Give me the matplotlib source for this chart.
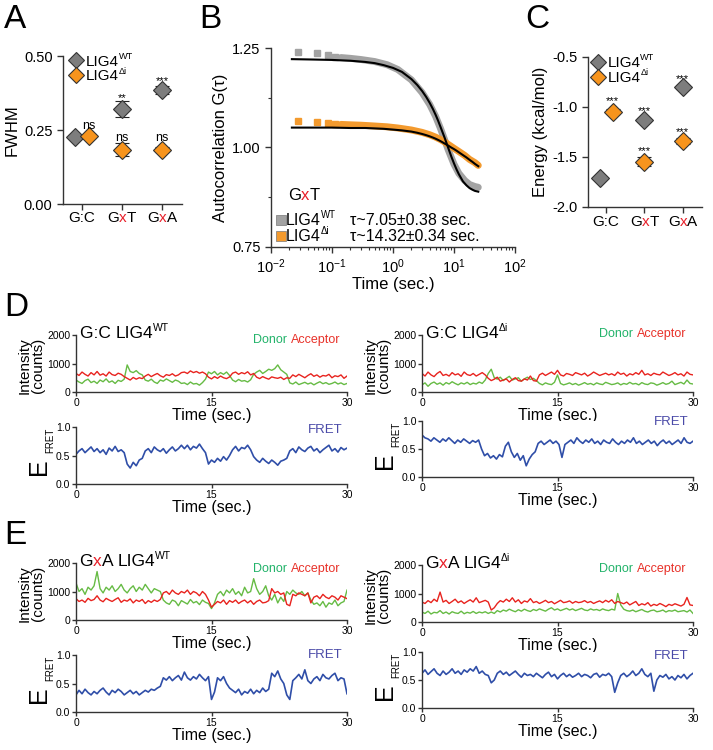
import numpy as np
import matplotlib
matplotlib.use("agg")
import matplotlib.pyplot as plt
import matplotlib.transforms as mtransforms
from matplotlib.ticker import LogLocator, NullFormatter, FixedLocator

plt.rcParams['font.family'] = ['Liberation Sans', 'DejaVu Sans']
plt.rcParams['mathtext.fontset'] = 'custom'
plt.rcParams['mathtext.rm'] = 'Liberation Sans'
plt.rcParams['mathtext.it'] = 'Liberation Sans:italic'
plt.rcParams['mathtext.default'] = 'regular'
plt.rcParams['axes.linewidth'] = 1.0
plt.rcParams['axes.edgecolor'] = '#333333'

# ---- data ----
categories = ['G:C', 'GxT', 'GxA']
cat_parts = [[('G:C', 'k')], [('G', 'k'), ('x', '#e8202a'), ('T', 'k')],
             [('G', 'k'), ('x', '#e8202a'), ('A', 'k')]]

fwhm_wt = [0.228, 0.322, 0.384]
fwhm_wt_err = [0.006, 0.027, 0.014]
fwhm_di = [0.230, 0.184, 0.184]
fwhm_di_err = [0.008, 0.023, 0.008]
fwhm_sig_wt = ['', '**', '***']
fwhm_sig_di = ['ns', 'ns', 'ns']

energy_wt = [-1.71, -1.13, -0.80]
energy_wt_err = [0.01, 0.02, 0.02]
energy_di = [-1.045, -1.545, -1.335]
energy_di_err = [0.02, 0.045, 0.03]
energy_sig_wt = ['', '***', '***']
energy_sig_di = ['***', '***', '***']

# panel B autocorrelation
wt_sq_t = [0.028, 0.056, 0.085, 0.113]
wt_sq_g = [1.240, 1.237, 1.232, 1.228]
di_sq_t = [0.028, 0.056, 0.085, 0.113]
di_sq_g = [1.066, 1.064, 1.062, 1.060]
band_t = [0.14, 0.2, 0.3, 0.5, 0.8, 1.2, 2, 3, 4, 5, 6, 7, 8, 10, 12, 15, 18, 22, 25]
wt_band_g = [1.226, 1.224, 1.221, 1.216, 1.208, 1.196, 1.170, 1.138, 1.108, 1.078, 1.048,
             1.020, 0.995, 0.958, 0.935, 0.917, 0.907, 0.902, 0.900]
di_band_g = [1.058, 1.057, 1.056, 1.054, 1.052, 1.049, 1.044, 1.038, 1.032, 1.026, 1.020,
             1.014, 1.008, 0.998, 0.990, 0.980, 0.970, 0.962, 0.955]
fit_t = [0.022, 0.05, 0.1, 0.2, 0.35, 0.5, 0.7, 1, 1.4, 2, 2.5, 3, 3.5, 4, 4.5, 5, 5.5, 6,
         6.5, 7, 8, 9, 10, 11, 12, 14, 16, 18, 20, 22, 25]
wt_fit_g = [1.222, 1.221, 1.220, 1.218, 1.215, 1.212, 1.207, 1.200, 1.190, 1.172, 1.157,
            1.142, 1.127, 1.112, 1.097, 1.082, 1.067, 1.052, 1.038, 1.025, 1.000, 0.978,
            0.960, 0.945, 0.933, 0.915, 0.905, 0.898, 0.894, 0.891, 0.889]
di_fit_g = [1.050, 1.050, 1.050, 1.049, 1.049, 1.048, 1.047, 1.045, 1.043, 1.040, 1.037,
            1.034, 1.031, 1.028, 1.025, 1.022, 1.019, 1.016, 1.013, 1.010, 1.005, 1.000,
            0.996, 0.992, 0.988, 0.981, 0.975, 0.969, 0.964, 0.959, 0.953]
tau_labels = ['\u03c4~7.05\u00b10.38 sec.', '\u03c4~14.32\u00b10.34 sec.']

# smFRET traces (0-30 s)
dl_acc = [650, 580, 700, 620, 560, 680, 600, 720, 590, 640, 560, 700, 610, 580, 660, 620, 540,
          480, 420, 510, 450, 500, 470,
          560, 620, 540, 600, 650, 570, 520, 610, 580, 640, 560, 600, 680,
          700, 650, 740, 680, 720, 660, 700, 640,
          520, 460, 540, 480, 560, 500, 470, 530,
          660, 700, 620, 680, 640, 710, 600, 650,
          520, 470, 540, 490, 450, 530, 500, 480, 520, 440, 500,
          480, 600, 540, 620, 560, 500, 580, 640, 550, 600, 520, 580, 560, 620, 500, 570, 540,
          600, 480, 560]
dl_don = [420, 350, 300, 400, 450, 330, 380, 300, 420, 360, 460, 340, 390, 300, 410, 370, 450,
          950, 720, 680, 750, 650, 600,
          420, 380, 450, 350, 300, 420, 380, 460, 400, 340, 420, 380, 300,
          320, 260, 350, 280, 300, 240, 330, 450,
          700, 640, 720, 600, 680, 620, 700, 580,
          420, 360, 440, 380, 400, 350, 430, 620,
          700, 760, 650, 720, 800, 760, 820, 950, 780, 700, 620,
          320, 280, 350, 260, 300, 340, 280, 320, 250, 310, 360, 290, 330, 270, 300, 350, 280,
          320, 260, 300]
dl_fret = [0.52, 0.58, 0.62, 0.55, 0.60, 0.65, 0.57, 0.62, 0.55, 0.60, 0.52, 0.63, 0.58, 0.66,
           0.57, 0.60, 0.55,
           0.35, 0.28, 0.38, 0.32, 0.42, 0.45,
           0.58, 0.62, 0.55, 0.65, 0.60, 0.57, 0.62, 0.54, 0.60, 0.65, 0.58, 0.62, 0.68,
           0.62, 0.68, 0.60, 0.66, 0.63, 0.70, 0.62, 0.55,
           0.35, 0.42, 0.38, 0.45, 0.40, 0.48, 0.42, 0.50,
           0.60, 0.66, 0.58, 0.64, 0.62, 0.68, 0.60, 0.48,
           0.42, 0.38, 0.45, 0.40, 0.36, 0.42, 0.38, 0.33, 0.40, 0.42, 0.45,
           0.58, 0.62, 0.55, 0.65, 0.60, 0.57, 0.63, 0.66, 0.58, 0.62, 0.55, 0.60, 0.64, 0.68,
           0.58, 0.62, 0.56, 0.64, 0.60, 0.63]

dr_acc = [650, 560, 700, 600, 540, 650, 720, 580, 620, 560, 680, 600, 640, 550, 700, 610, 580,
          650, 560, 620, 680, 600,
          480, 400, 450, 520, 380, 420, 460, 350, 440, 500, 400, 380, 460, 420, 560, 400, 380,
          600, 660, 580, 640, 700, 620, 760, 600, 560, 650, 620, 580, 680, 640, 600, 660, 560,
          620, 700, 640, 580, 620, 660, 600, 640, 580, 700, 620, 660, 560, 640, 600, 680, 620,
          760, 600, 640, 580, 660, 620, 600, 700, 640, 580, 620, 680, 600, 640, 560, 700, 620,
          600]
dr_don = [250, 320, 200, 300, 350, 270, 320, 240, 330, 280, 360, 300, 250, 320, 280, 340, 260,
          310, 280, 350, 300, 420,
          650, 800, 500, 450, 520, 400, 480, 550, 420, 460, 500, 380, 460, 520, 440, 480, 400,
          300, 250, 320, 280, 260, 340, 600, 300, 250, 280, 320, 260, 300, 240, 280, 330, 270,
          300, 250, 320, 280, 260, 340, 300, 260, 280, 320, 250, 300, 270, 340, 280, 300, 250,
          330, 280, 260, 320, 300, 240, 280, 330, 270, 300, 380, 260, 300, 340, 280, 420, 300,
          280]
dr_fret = [0.75, 0.70, 0.68, 0.64, 0.70, 0.66, 0.62, 0.68, 0.64, 0.70, 0.65, 0.60, 0.66, 0.62,
           0.68, 0.64, 0.60, 0.65, 0.62, 0.66,
           0.50, 0.38, 0.42, 0.34, 0.38, 0.32, 0.40, 0.36,
           0.55, 0.62, 0.45,
           0.35, 0.42, 0.30, 0.38, 0.20, 0.32, 0.40, 0.45,
           0.60, 0.64, 0.58, 0.62, 0.66, 0.60, 0.64, 0.58, 0.35, 0.58, 0.62, 0.66, 0.60, 0.70,
           0.64, 0.60, 0.66, 0.62, 0.68, 0.60, 0.64, 0.58, 0.66, 0.62, 0.60, 0.68, 0.62, 0.58,
           0.64, 0.60, 0.66, 0.62, 0.70, 0.60, 0.64, 0.58, 0.62, 0.66, 0.60, 0.64, 0.56, 0.62,
           0.66, 0.60, 0.64, 0.58, 0.62, 0.66, 0.60, 0.70, 0.62, 0.60, 0.64]

el_don = [1300, 1000, 1100, 900, 1150, 1050, 1200, 1700, 1100, 950, 1150, 1050, 1200, 1000,
          1100, 1250, 1050, 950, 1100, 1200, 1000, 1150, 1050, 1250, 1100, 950, 1100, 1050, 1000,
          700, 600, 550, 700, 650, 500, 680, 620, 560, 720, 600, 650, 540, 700, 620, 580,
          400, 600,
          900, 1000, 850, 1050, 950, 1100, 900, 1000, 850, 1150, 950, 1000, 1450, 1100, 900,
          1000, 1200, 850,
          700, 900, 600, 800, 650,
          1000, 900, 1050, 950, 900, 1000, 850, 950, 700,
          550, 600, 500, 650, 450, 600, 550, 700, 500, 600, 650, 1050]
el_acc = [750, 650, 700, 620, 760, 680, 720, 850, 700, 640, 760, 700, 650, 720, 780, 620, 700,
          660, 740, 600, 700, 650, 720, 580, 680, 620, 700, 650, 720,
          950, 1000, 900, 1050, 950, 900, 1000, 950, 1050, 900, 1000, 950, 850, 1000, 900, 700,
          450, 550,
          650, 600, 700, 550, 680, 620, 700, 580, 650, 700, 600, 680, 550, 650, 700, 600, 620, 680,
          1100, 950, 1000, 900, 950,
          550, 500, 900, 850, 950, 900, 850, 950, 600,
          800, 850, 750, 900, 800, 750, 850, 800, 700, 850, 800, 750]
el_fret = [0.30, 0.38, 0.32, 0.40, 0.34, 0.30, 0.36, 0.32, 0.38, 0.42, 0.35, 0.30, 0.38, 0.34,
           0.40, 0.36, 0.30, 0.34, 0.38, 0.32, 0.36, 0.30, 0.34, 0.38, 0.35, 0.40, 0.38, 0.42, 0.45,
           0.60, 0.56, 0.62, 0.55, 0.60, 0.64, 0.56, 0.70, 0.60, 0.56, 0.62, 0.58, 0.66, 0.60,
           0.55, 0.62,
           0.22, 0.35,
           0.60, 0.55, 0.62, 0.50, 0.42, 0.38, 0.34, 0.40, 0.30, 0.36, 0.33, 0.40, 0.32, 0.38,
           0.34, 0.42, 0.36, 0.40,
           0.68, 0.62, 0.72, 0.58, 0.50,
           0.30, 0.22, 0.55, 0.60, 0.66, 0.58, 0.74, 0.55, 0.50,
           0.58, 0.62, 0.55, 0.66, 0.60, 0.58, 0.64, 0.68, 0.55, 0.60, 0.58, 0.32]

er_acc = [700, 650, 750, 680, 800, 720, 1050, 700, 760, 650, 720, 800, 680, 740, 650, 720, 780,
          700, 850, 680, 720, 760, 700,
          420, 500,
          650, 750, 700, 800, 720, 850, 700, 780, 650, 740, 700, 820, 680, 720, 650, 700, 760,
          680, 720, 640, 700, 760, 680, 700, 740, 660, 720, 680, 700, 750, 680, 720, 650, 700,
          740, 680, 760, 700, 780, 650, 720, 680, 640, 700, 600, 660, 720, 580, 640, 600, 680,
          560, 620, 580, 650, 600, 540, 620, 580, 640, 600, 560, 620, 860, 600, 580]
er_don = [350, 300, 380, 280, 340, 320, 400, 300, 350, 280, 360, 320, 300, 380, 290, 340, 310,
          370, 300, 350, 320, 360, 300,
          350, 300,
          400, 350, 420, 380, 450, 400, 360, 430, 380, 450, 400, 370, 440, 400, 460, 420, 380,
          450, 500, 420, 460, 400, 440, 480, 420, 460, 400, 440, 480, 420, 400, 460, 420, 440,
          400, 460, 420, 400, 450, 420, 1000, 600, 450, 400, 380, 420, 360, 400, 440, 380, 350,
          400, 420, 360, 380, 420, 350, 400, 380, 420, 360, 380, 400, 350, 420, 300]
er_fret = [0.62, 0.68, 0.60, 0.65, 0.70, 0.62, 0.58, 0.66, 0.60, 0.64, 0.70, 0.62, 0.66, 0.60,
           0.68, 0.64, 0.70, 0.66, 0.74, 0.62, 0.66, 0.60, 0.58, 0.45, 0.50, 0.62, 0.66, 0.60,
           0.64, 0.58, 0.62, 0.66, 0.60, 0.55, 0.62, 0.58, 0.60, 0.56, 0.62, 0.58, 0.54, 0.60,
           0.64, 0.56, 0.60, 0.52, 0.58, 0.62, 0.56, 0.60, 0.55, 0.58, 0.62, 0.56, 0.60, 0.58,
           0.54, 0.60, 0.62, 0.55, 0.60, 0.58, 0.62, 0.56, 0.28, 0.45, 0.58, 0.62, 0.56, 0.60,
           0.66, 0.58, 0.62, 0.70, 0.60, 0.56, 0.62, 0.30, 0.50, 0.58, 0.55, 0.60, 0.52, 0.56,
           0.50, 0.58, 0.54, 0.60, 0.52, 0.58, 0.62]

GRAY = '#7d7d7d'
ORANGE = '#f7941d'
RED = '#e8202a'
W, H = 713, 750

fig = plt.figure(figsize=(W / 100, H / 100), dpi=100)
renderer = fig.canvas.get_renderer()


def px_axes(l, t, r, b):
    return fig.add_axes([l / W, 1 - b / H, (r - l) / W, (b - t) / H])


def rainbow(ax, x, y, parts, ha='left', transform=None, fontsize=10):
    # parts: (text, colour) or (text, colour, 'sup') for small raised text
    if transform is None:
        transform = ax.transData
    texts, widths, rises = [], [], []
    for p in parts:
        sup = len(p) > 2
        fs = fontsize * 0.6 if sup else fontsize
        t = ax.text(x, y, p[0], color=p[1], transform=transform, ha='left', va='baseline',
                    fontsize=fs)
        texts.append(t)
        widths.append(t.get_window_extent(renderer=renderer).width + (1 if sup else 0))
        rises.append(fontsize * 0.42 * 100 / 72 if sup else 0)
    off = {'left': 0, 'center': -sum(widths) / 2, 'right': -sum(widths)}[ha]
    for t, w, r in zip(texts, widths, rises):
        t.set_transform(mtransforms.offset_copy(transform, fig=fig, x=off, y=r, units='dots'))
        off += w


def lig(sup):
    return [('LIG4', 'k'), (sup, 'k', 'sup')]


def clean(ax):
    ax.spines['top'].set_visible(False)
    ax.spines['right'].set_visible(False)
    ax.tick_params(direction='out', length=4, width=1, colors='#333333', labelcolor='k')


def dot_plot(ax, wt, wt_err, di, di_err, sig_wt, sig_di, star_y, ylim, yticks, fmt, ylabel,
             leg_x):
    x = np.arange(len(categories))
    dodge = np.array([-0.17, 0, 0])
    for vals, errs, xs, col in [(wt, wt_err, x + dodge, GRAY), (di, di_err, x - dodge, ORANGE)]:
        ax.errorbar(xs, vals, yerr=errs, fmt='D', ms=9, mfc=col, mec='#333333', mew=0.8,
                    ecolor='#222222', elinewidth=1, capsize=5, capthick=1)
    for xs, sig, ys in [(x + dodge, sig_wt, star_y[0]), (x - dodge, sig_di, star_y[1])]:
        for xi, s, yy in zip(xs, sig, ys):
            if s:
                ax.text(xi, yy, s, ha='center', va='center',
                        fontsize=9 if s == 'ns' else 8)
    ax.set_xlim(-0.47, 2.5)
    ax.set_ylim(*ylim)
    ax.set_yticks(yticks)
    ax.set_yticklabels([fmt % v for v in yticks], fontsize=10.5)
    ax.set_xticks(x)
    ax.set_xticklabels([])
    ax.set_ylabel(ylabel, fontsize=12, labelpad=3)
    clean(ax)
    tr = mtransforms.blended_transform_factory(ax.transData, ax.transAxes)
    for xi, parts in zip(x, cat_parts):
        rainbow(ax, xi, -0.125, parts, ha='center', transform=tr, fontsize=11)
    for yy, col, sup in [(0.97, GRAY, 'WT'), (0.87, ORANGE, '\u0394i')]:
        ax.plot([leg_x[0]], [yy], transform=ax.transAxes, ls='', marker='D', ms=8.5, mfc=col,
                mec='#333333', mew=0.8, clip_on=False)
        rainbow(ax, leg_x[1], yy - 0.035, lig(sup), transform=ax.transAxes, fontsize=11)


# ---- A ----
axA = px_axes(63, 56, 182, 204)
dot_plot(axA, fwhm_wt, fwhm_wt_err, fwhm_di, fwhm_di_err, fwhm_sig_wt, fwhm_sig_di,
         ([0, 0.358, 0.416], [0.265, 0.224, 0.224]), (0, 0.5), [0, 0.25, 0.5], '%.2f', 'FWHM',
         (0.11, 0.195))

# ---- C ----
axC = px_axes(588, 57, 702, 207)
dot_plot(axC, energy_wt, energy_wt_err, energy_di, energy_di_err, energy_sig_wt, energy_sig_di,
         ([0, -1.04, -0.72], [-0.94, -1.44, -1.255]), (-2.0, -0.5), [-2.0, -1.5, -1.0, -0.5],
         '%.1f', 'Energy (kcal/mol)', (0.09, 0.17))

# ---- B ----
axB = px_axes(271, 48, 515, 247)
axB.set_xscale('log')
axB.plot(band_t, wt_band_g, color='#a3a3a3', lw=5, solid_capstyle='round', zorder=2)
axB.plot(band_t, di_band_g, color='#f39a2e', lw=5, solid_capstyle='round', zorder=2)
axB.plot(wt_sq_t, wt_sq_g, ls='', marker='s', ms=4, color='#a3a3a3', zorder=2)
axB.plot(di_sq_t, di_sq_g, ls='', marker='s', ms=4, color='#f39a2e', zorder=2)
axB.plot(fit_t, wt_fit_g, color='k', lw=1.5, zorder=3)
axB.plot(fit_t, di_fit_g, color='k', lw=1.5, zorder=3)
axB.set_xlim(1e-2, 1e2)
axB.set_ylim(0.75, 1.25)
axB.set_yticks([0.75, 1.0, 1.25])
axB.set_yticklabels(['0.75', '1.00', '1.25'], fontsize=10.5)
axB.yaxis.set_minor_locator(FixedLocator([0.875, 1.125]))
axB.xaxis.set_major_locator(LogLocator(base=10, numticks=10))
axB.xaxis.set_minor_locator(LogLocator(base=10, subs=np.arange(2, 10), numticks=20))
axB.xaxis.set_minor_formatter(NullFormatter())
axB.tick_params(axis='x', labelsize=10.5)
clean(axB)
axB.tick_params(which='minor', direction='out', length=2.5, width=0.8, colors='#333333')
axB.set_ylabel('Autocorrelation G(\u03c4)', fontsize=12, labelpad=3)
axB.set_xlabel('Time (sec.)', fontsize=12, labelpad=1)
rainbow(axB, 0.07, 0.236, [('G', 'k'), ('x', RED), ('T', 'k')], transform=axB.transAxes,
        fontsize=12)
for yy, col, sup, tau in [(0.11, '#a3a3a3', 'WT', tau_labels[0]),
                          (0.03, '#f39a2e', '\u0394i', tau_labels[1])]:
    axB.plot([0.041], [yy + 0.025], transform=axB.transAxes, marker='s', ms=7, color=col,
             mec='#777777', mew=0.5, clip_on=False)
    rainbow(axB, 0.06, yy, lig(sup), transform=axB.transAxes, fontsize=11.5)
    axB.text(0.324, yy, tau, transform=axB.transAxes, fontsize=11.5, va='baseline')


# ---- D / E traces ----
def traces(box_i, box_f, don, acc, fret, title, dy, fy):
    ai = px_axes(*box_i)
    af = px_axes(*box_f)
    ai.plot(np.linspace(0, 30, len(don)), don, color='#66bb44', lw=1.0)
    ai.plot(np.linspace(0, 30, len(acc)), acc, color='#e8231e', lw=1.0)
    af.plot(np.linspace(0, 30, len(fret)), fret, color='#2f4ea8', lw=1.2)
    for ax, yt, lab in [(ai, [0, 1000, 2000], ['0', '1000', '2000']),
                        (af, [0, 0.5, 1.0], ['0.0', '0.5', '1.0'])]:
        ax.set_xlim(0, 30)
        ax.set_ylim(yt[0], yt[-1])
        ax.set_yticks(yt)
        ax.set_yticklabels(lab, fontsize=7.5)
        ax.set_xticks([0, 15, 30])
        ax.set_xticklabels(['0', '15', '30'], fontsize=7.5)
        clean(ax)
        ax.tick_params(length=3, pad=1)
        ax.set_xlabel('Time (sec.)', fontsize=11.5, labelpad=0)
    ai.text(-0.165, 0.47, 'Intensity\n(counts)', transform=ai.transAxes, rotation=90,
            ha='center', va='center', fontsize=11, linespacing=1.0)
    rainbow(ai, 0.013, 0.95, title, transform=ai.transAxes, fontsize=12.5)
    rainbow(ai, 0.975, dy, [('Donor ', '#22b36a'), ('Acceptor', '#e8322a')], ha='right',
            transform=ai.transAxes, fontsize=9)
    af.text(0.985, fy, 'FRET', transform=af.transAxes, ha='right', va='baseline',
            fontsize=9.5, color='#4a4aa8')
    af.text(-0.137, 0.3, 'E', transform=af.transAxes, rotation=90, ha='center', va='center',
            fontsize=18)
    af.text(-0.096, 0.76, 'FRET', transform=af.transAxes, rotation=90, ha='center',
            va='center', fontsize=7)


traces((76, 335, 347, 392), (76, 427, 347, 484), dl_don, dl_acc, dl_fret,
       [('G:C ', 'k')] + lig('WT'), 0.86, 0.9)
traces((422, 335, 693, 392), (422, 421, 693, 477), dr_don, dr_acc, dr_fret,
       [('G:C ', 'k')] + lig('\u0394i'), 0.97, 0.93)
traces((76, 563, 347, 620), (76, 655, 347, 712), el_don, el_acc, el_fret,
       [('G', 'k'), ('x', RED), ('A ', 'k')] + lig('WT'), 0.84, 0.95)
traces((422, 565, 693, 622), (422, 652, 693, 708), er_don, er_acc, er_fret,
       [('G', 'k'), ('x', RED), ('A ', 'k')] + lig('\u0394i'), 0.87, 0.87)

# panel letters
for lab, x, y in [('A', 4, 4), ('B', 199, 4), ('C', 525, 4), ('D', 4, 292), ('E', 4, 520)]:
    fig.text(x / W, 1 - y / H, lab, fontsize=24, va='top', ha='left')

fig.savefig('out.png', dpi=100)
plt.close()
